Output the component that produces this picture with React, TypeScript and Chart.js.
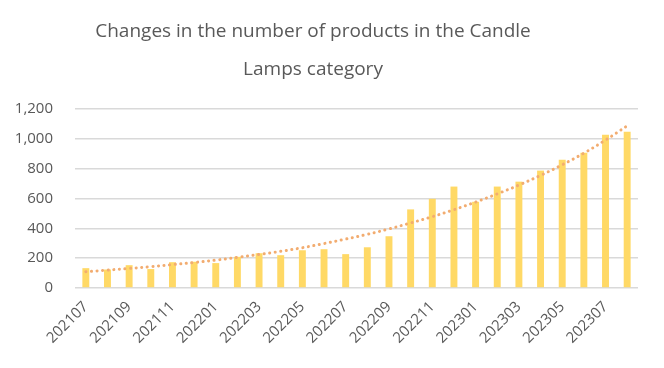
import React, { useEffect, useRef } from "react";
import { Chart, registerables } from "chart.js";

Chart.register(...registerables);

const categories = [
  "202107", "202108", "202109", "202110", "202111", "202112",
  "202201", "202202", "202203", "202204", "202205", "202206",
  "202207", "202208", "202209", "202210", "202211", "202212",
  "202301", "202302", "202303", "202304", "202305", "202306",
  "202307", "202308",
];

const productCounts = [
  133, 124, 153, 127, 173, 176, 167, 209, 233, 220, 253, 260, 227,
  273, 347, 527, 598, 680, 578, 680, 713, 787, 860, 907, 1027, 1047,
];

const trendValues = [
  109, 120, 131, 143, 157, 171, 187, 205, 225, 246, 270, 298, 328,
  360, 396, 436, 478, 525, 576, 631, 690, 755, 826, 904, 992, 1087,
];

const yTicks = [0, 200, 400, 600, 800, 1000, 1200];

const titleLines = ["Changes in the number of products in the Candle", "Lamps category"];

const FONT = "'Open Sans', sans-serif";
const TEXT = "#595959";

const titlePlugin = {
  id: "customTitle",
  afterDraw(chart: any) {
    const ctx = chart.ctx;
    ctx.save();
    ctx.fillStyle = TEXT;
    ctx.font = `19px ${FONT}`;
    ctx.textAlign = "center";
    ctx.textBaseline = "middle";
    titleLines.forEach((line, i) => {
      ctx.fillText(line, 313, 32 + i * 38);
    });
    ctx.restore();
  },
};

export default function App() {
  const ref = useRef<HTMLCanvasElement | null>(null);

  useEffect(() => {
    if (!ref.current) return;
    const chart = new Chart(ref.current, {
      type: "bar",
      data: {
        labels: categories,
        datasets: [
          {
            type: "line",
            label: "Trend",
            data: trendValues,
            borderColor: "#F2AC70",
            borderWidth: 3,
            borderDash: [0.1, 5.5],
            borderCapStyle: "round",
            pointRadius: 0,
            tension: 0.4,
            fill: false,
            order: 0,
          } as any,
          {
            type: "bar",
            label: "Products",
            data: productCounts,
            backgroundColor: "#FFD966",
            borderWidth: 0,
            barPercentage: 0.64,
            categoryPercentage: 0.5,
            order: 1,
          },
        ],
      },
      options: {
        responsive: false,
        animation: false,
        layout: { padding: { left: 0, right: 26, top: 109, bottom: 0 } },
        plugins: {
          legend: { display: false },
          tooltip: { enabled: false },
          title: { display: false },
        },
        scales: {
          x: {
            grid: { display: false },
            border: { display: false },
            ticks: {
              autoSkip: false,
              maxRotation: 45,
              minRotation: 45,
              color: TEXT,
              font: { family: FONT, size: 15 },
              padding: 2,
              callback: (_v: any, i: number) => (i % 2 === 0 ? categories[i] : ""),
            },
            afterFit: (s: any) => {
              s.height = 80;
            },
          },
          y: {
            min: 0,
            max: 1200,
            afterBuildTicks: (s: any) => {
              s.ticks = yTicks.map((v) => ({ value: v }));
            },
            grid: { color: "#D9D9D9", lineWidth: 1.5, drawTicks: false },
            border: { display: false },
            ticks: {
              color: TEXT,
              font: { family: FONT, size: 15 },
              padding: 22,
              callback: (v: any) => Number(v).toLocaleString("en-US"),
            },
            afterFit: (s: any) => {
              s.width = 75;
            },
          },
        },
      },
      plugins: [titlePlugin],
    });
    return () => chart.destroy();
  }, []);

  return (
    <div style={{ position: "fixed", left: 0, top: 0, width: 664, height: 368, background: "#fff" }}>
      <canvas ref={ref} width={664} height={368} />
    </div>
  );
}
